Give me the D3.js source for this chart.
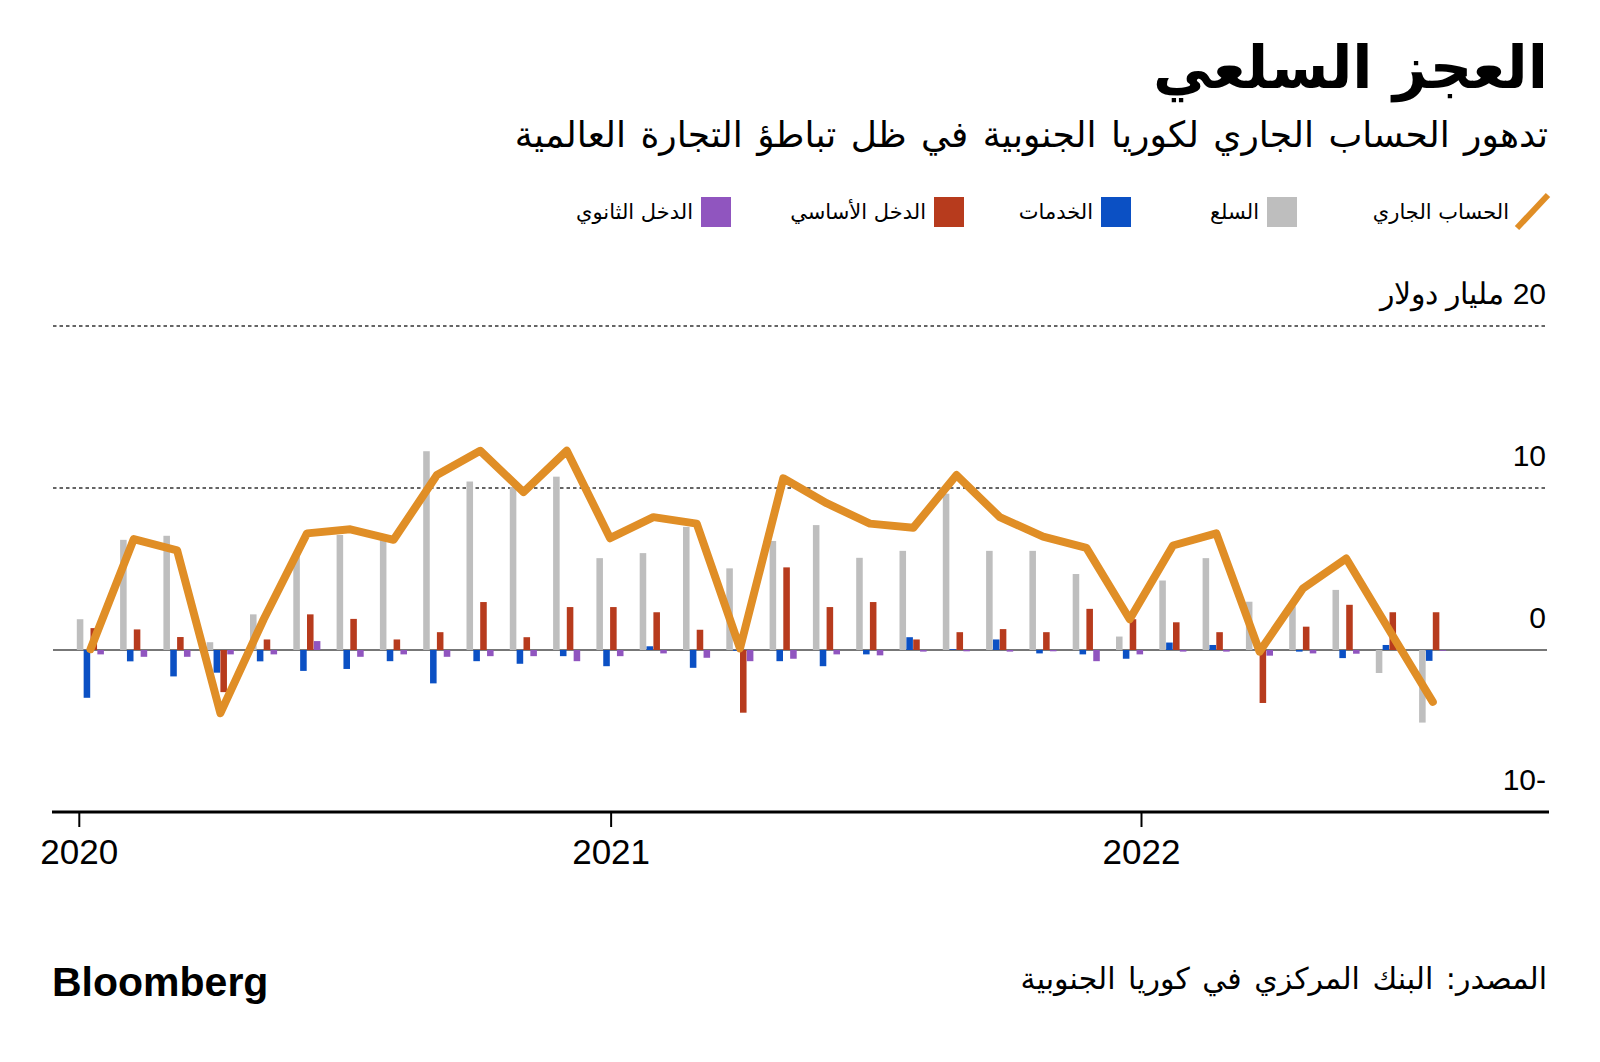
<!DOCTYPE html>
<html lang="ar">
<head>
<meta charset="utf-8">
<script src="https://cdn.jsdelivr.net/npm/d3@7"></script>
<style>
  html, body { margin: 0; padding: 0; background: #fff; }
  svg { display: block; }
  .ar { font-family: "DejaVu Sans", sans-serif; }
  .num { font-family: "Liberation Sans", Arial, sans-serif; }
</style>
</head>
<body>
<svg id="chart" width="1600" height="1062"></svg>
<script>
// ---------------- DATA ----------------
const months = ["2020-01","2020-02","2020-03","2020-04","2020-05","2020-06","2020-07","2020-08",
  "2020-09","2020-10","2020-11","2020-12","2021-01","2021-02","2021-03","2021-04","2021-05","2021-06",
  "2021-07","2021-08","2021-09","2021-10","2021-11","2021-12","2022-01","2022-02","2022-03","2022-04",
  "2022-05","2022-06","2022-07","2022-08"];

// billions of US dollars
const goods = [1.9, 6.8, 7.05, 0.48, 2.2, 5.9, 7.1, 7.0, 12.27, 10.4, 10.06, 10.7,
  5.67, 5.98, 7.6, 5.04, 6.73, 7.71, 5.69, 6.12, 9.65, 6.12, 6.12, 4.69,
  0.83, 4.29, 5.67, 2.98, 2.7, 3.71, -1.42, -4.48];
const services = [-2.95, -0.7, -1.63, -1.4, -0.7, -1.29, -1.17, -0.69, -2.06, -0.69, -0.85, -0.38,
  -1.0, 0.23, -1.1, -0.05, -0.69, -1.0, -0.27, 0.79, 0.05, 0.65, -0.21, -0.27,
  -0.54, 0.46, 0.31, 0.02, -0.1, -0.5, 0.31, -0.67];
const primaryIncome = [1.35, 1.27, 0.8, -2.6, 0.65, 2.2, 1.92, 0.65, 1.1, 2.96, 0.79, 2.65,
  2.65, 2.33, 1.25, -3.87, 5.1, 2.65, 2.96, 0.65, 1.1, 1.29, 1.1, 2.54,
  1.9, 1.71, 1.1, -3.27, 1.44, 2.79, 2.33, 2.33];
const secondaryIncome = [-0.27, -0.42, -0.42, -0.27, -0.27, 0.55, -0.42, -0.27, -0.42, -0.38, -0.38, -0.69,
  -0.38, -0.21, -0.48, -0.69, -0.54, -0.27, -0.33, -0.1, -0.08, -0.1, -0.08, -0.69,
  -0.27, -0.1, -0.1, -0.35, -0.21, -0.23, -0.04, -0.05];
const currentAccount = [0.05, 6.85, 6.15, -3.9, 1.9, 7.2, 7.45, 6.8, 10.8, 12.3, 9.75, 12.3,
  6.9, 8.2, 7.8, 0.1, 10.6, 9.06, 7.8, 7.54, 10.8, 8.2, 7.0, 6.3,
  1.9, 6.45, 7.2, -0.1, 3.8, 5.65, 1.2, -3.2];

const yTicks = [-10, 0, 10, 20];
const yTickLabels = ["-10", "0", "10", "20 مليار دولار"];
const xTickYears = ["2020", "2021", "2022"];

const seriesNames = ["السلع", "الخدمات", "الدخل الأساسي", "الدخل الثانوي"];
const lineName = "الحساب الجاري";
const titleText = "العجز السلعي";
const subtitleText = "تدهور الحساب الجاري لكوريا الجنوبية في ظل تباطؤ التجارة العالمية";
const sourceText = "المصدر: البنك المركزي في كوريا الجنوبية";

// ---------------- STYLE ----------------
const barColors = ["#bebebe", "#0b50c4", "#b73b1d", "#9055bf"];
const lineColor = "#e08e26";

const svg = d3.select("#chart");

// ---------------- SCALES ----------------
const y = d3.scaleLinear().domain([-10, 20]).range([812, 326]);
const x = d3.scaleBand().domain(months).range([76.8, 1462.4]).paddingInner(0).paddingOuter(0);
const xSub = d3.scaleBand().domain(seriesNames).range([0, 27.4]);
const xTime = d3.scaleTime()
  .domain([new Date(2020, 0, 1), new Date(2022, 0, 1)])
  .range([78.8, 1141]);

const plotLeft = 53, plotRight = 1547;

// ---------------- HEADER ----------------
svg.append("text").attr("class", "ar")
  .attr("x", 1548).attr("y", 88)
  .attr("text-anchor", "end")
  .style("font-size", "59px").style("font-weight", "bold").attr("fill", "#000")
  .text(titleText);

svg.append("text").attr("class", "ar")
  .attr("x", 1548).attr("y", 147)
  .attr("text-anchor", "end")
  .style("font-size", "36px").style("word-spacing", "3px").attr("fill", "#000")
  .text(subtitleText);

// ---------------- LEGEND ----------------
const legendSquaresX = [1267, 1101, 934, 701];
seriesNames.forEach((name, i) => {
  svg.append("rect").attr("x", legendSquaresX[i]).attr("y", 197)
    .attr("width", 30).attr("height", 30).attr("fill", barColors[i]);
  svg.append("text").attr("class", "ar")
    .attr("x", legendSquaresX[i] - 8).attr("y", 219)
    .attr("text-anchor", "end").style("font-size", "21px").attr("fill", "#000")
    .text(name);
});
svg.append("line").attr("x1", 1517).attr("y1", 228).attr("x2", 1548).attr("y2", 195)
  .attr("stroke", lineColor).attr("stroke-width", 6);
svg.append("text").attr("class", "ar")
  .attr("x", 1509).attr("y", 219)
  .attr("text-anchor", "end").style("font-size", "21px").attr("fill", "#000")
  .text(lineName);

// ---------------- GRID ----------------
const grid = svg.append("g");
yTicks.forEach((t, i) => {
  if (t > 0) {
    grid.append("line")
      .attr("x1", plotLeft).attr("x2", plotRight)
      .attr("y1", y(t)).attr("y2", y(t))
      .attr("stroke", "#333").attr("stroke-width", 1.5)
      .attr("stroke-dasharray", "3.5,3");
  }
  grid.append("text").attr("class", "num")
    .attr("x", 1546).attr("y", y(t) - 22)
    .attr("direction", "rtl").style("direction", "rtl")
    .attr("text-anchor", "start")
    .style("font-size", "30px").attr("fill", "#000")
    .text(yTickLabels[i]);
});

// zero line
svg.append("line")
  .attr("x1", plotLeft).attr("x2", plotRight)
  .attr("y1", y(0)).attr("y2", y(0))
  .attr("stroke", "#777").attr("stroke-width", 2);

// ---------------- BARS ----------------
const seriesValues = [goods, services, primaryIncome, secondaryIncome];
const barsG = svg.append("g");
seriesValues.forEach((vals, si) => {
  barsG.selectAll(null)
    .data(months.map((m, i) => ({ m, v: vals[i] })))
    .join("rect")
    .attr("x", d => x(d.m) + xSub(seriesNames[si]))
    .attr("width", xSub.bandwidth() - 0.3)
    .attr("y", d => y(Math.max(0, d.v)))
    .attr("height", d => Math.abs(y(d.v) - y(0)))
    .attr("fill", barColors[si]);
});

// ---------------- LINE ----------------
const lineGen = d3.line()
  .x(d => x(d.m) + 13.7)
  .y(d => y(d.v));
svg.append("path")
  .datum(months.map((m, i) => ({ m, v: currentAccount[i] })))
  .attr("d", lineGen)
  .attr("fill", "none")
  .attr("stroke", lineColor)
  .attr("stroke-width", 8)
  .attr("stroke-linejoin", "round")
  .attr("stroke-linecap", "round");

// ---------------- X AXIS ----------------
svg.append("line")
  .attr("x1", 52).attr("x2", 1549)
  .attr("y1", y(-10)).attr("y2", y(-10))
  .attr("stroke", "#000").attr("stroke-width", 3);

const xAxis = d3.axisBottom(xTime)
  .tickValues(xTickYears.map(yv => new Date(+yv, 0, 1)))
  .tickSize(15)
  .tickPadding(12)
  .tickFormat(d3.timeFormat("%Y"));
const xg = svg.append("g").attr("transform", `translate(0,${y(-10)})`).call(xAxis);
xg.select(".domain").remove();
xg.selectAll(".tick line").attr("stroke", "#000").attr("stroke-width", 2);
xg.selectAll(".tick text")
  .attr("class", "num")
  .style("font-size", "35px").attr("fill", "#000");

// ---------------- FOOTER ----------------
svg.append("text")
  .attr("x", 52).attr("y", 996)
  .style("font-family", "'Liberation Sans', Arial, sans-serif")
  .style("font-size", "41px").style("font-weight", "bold")
  .attr("fill", "#000")
  .text("Bloomberg");

svg.append("text").attr("class", "ar")
  .attr("x", 1547).attr("y", 989)
  .attr("text-anchor", "end")
  .style("font-size", "30px").style("word-spacing", "3px").attr("fill", "#000")
  .text(sourceText);
</script>
</body>
</html>
